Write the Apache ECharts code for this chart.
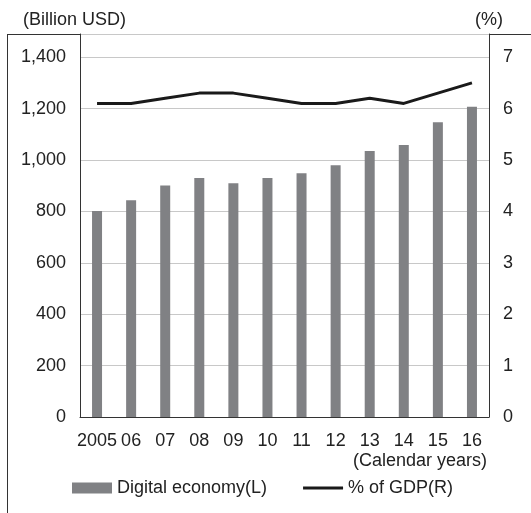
<!DOCTYPE html>
<html>
<head>
<meta charset="utf-8">
<script src="https://cdn.jsdelivr.net/npm/echarts@6/dist/echarts.min.js"></script>
<style>
  html, body { margin: 0; padding: 0; background: #fff; }
  #main { width: 531px; height: 513px; }
</style>
</head>
<body>
<div id="main"></div>
<script>
// 年份与数据
var years = ["2005", "06", "07", "08", "09", "10", "11", "12", "13", "14", "15", "16"];
var digitalEconomy = [801, 843, 901, 930, 909, 930, 948, 979, 1035, 1058, 1147, 1207];
var gdpShare = [6.1, 6.1, 6.2, 6.3, 6.3, 6.2, 6.1, 6.1, 6.2, 6.1, 6.3, 6.5];

var FONT = "Liberation Sans, Arial, sans-serif";
var chart = echarts.init(document.getElementById("main"));

chart.setOption({
  animation: false,
  backgroundColor: "#fff",
  textStyle: { fontFamily: FONT },
  grid: { left: 80, right: 42, top: 34, bottom: 96 },
  legend: {
    left: 72,
    top: 479,
    padding: 0,
    itemWidth: 40,
    itemHeight: 11,
    itemGap: 36,
    textStyle: { fontFamily: FONT, fontSize: 18, color: "#222" },
    data: [
      { name: "Digital economy(L)", icon: "rect" },
      { name: "% of GDP(R)", icon: "path://M0,0H40V3H0Z" }
    ]
  },
  xAxis: {
    type: "category",
    data: years,
    axisLine: { lineStyle: { color: "#333", width: 1 } },
    axisTick: { show: false },
    axisLabel: { interval: 0, color: "#222", fontSize: 18, margin: 15, fontFamily: FONT }
  },
  yAxis: [
    {
      type: "value",
      min: 0,
      max: 1490,
      interval: 200,
      axisLine: { show: true, lineStyle: { color: "#333" } },
      axisTick: { show: false },
      splitLine: { lineStyle: { color: "#c8c8c8", width: 1 } },
      axisLabel: {
        color: "#222", fontSize: 18, margin: 14, fontFamily: FONT, showMaxLabel: false,
        formatter: function (v) { return v.toLocaleString("en-US"); }
      }
    },
    {
      type: "value",
      min: 0,
      max: 7.45,
      interval: 1,
      axisLine: { show: true, lineStyle: { color: "#333" } },
      axisTick: { show: false },
      splitLine: { show: false },
      axisLabel: { color: "#222", fontSize: 18, margin: 14, fontFamily: FONT, showMaxLabel: false }
    }
  ],
  series: [
    {
      name: "Digital economy(L)",
      type: "bar",
      data: digitalEconomy,
      barWidth: 10,
      itemStyle: { color: "#808184" }
    },
    {
      name: "% of GDP(R)",
      type: "line",
      yAxisIndex: 1,
      data: gdpShare,
      symbol: "none",
      lineStyle: { color: "#1a1a1a", width: 3 },
      itemStyle: { color: "#1a1a1a" }
    }
  ],
  graphic: [
    { type: "line", shape: { x1: 7, y1: 34.5, x2: 531, y2: 34.5 }, style: { stroke: "#333", lineWidth: 1 } },
    { type: "line", shape: { x1: 7.5, y1: 34, x2: 7.5, y2: 513 }, style: { stroke: "#333", lineWidth: 1 } },
    { type: "text", left: 23, top: 11, style: { text: "(Billion USD)", font: "18px " + FONT, fill: "#222" } },
    { type: "text", left: 475, top: 11, style: { text: "(%)", font: "18px " + FONT, fill: "#222" } },
    { type: "text", right: 44, top: 452, style: { text: "(Calendar years)", font: "18px " + FONT, fill: "#222" } }
  ]
});
</script>
</body>
</html>
